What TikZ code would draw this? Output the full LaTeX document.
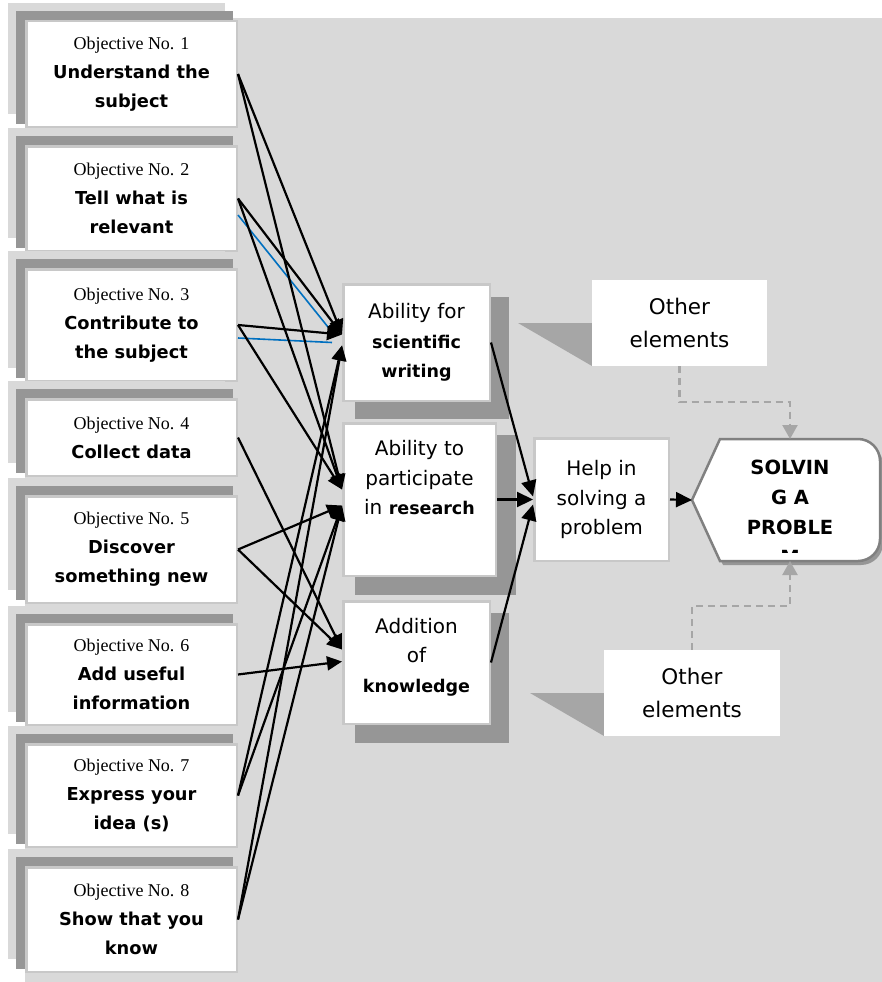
\documentclass[tikz,border=0pt]{standalone}
\usepackage{fontspec}
\newfontfamily\comic{DejaVu Sans}
\newfontfamily\objserif{Liberation Serif}
\usetikzlibrary{arrows.meta,calc}
\definecolor{panel}{HTML}{D9D9D9}
\definecolor{shadowdk}{HTML}{969696}
\definecolor{boxborder}{HTML}{C8C8C8}
\definecolor{callgray}{HTML}{A6A6A6}
\definecolor{hexborder}{HTML}{808080}
\definecolor{linkblue}{HTML}{0070C0}
\newcommand\bsf[1]{{\bfseries\fontsize{17.5}{29}\selectfont #1}}
\newcommand\mkobj[5]{%
  \fill[panel] (8,{#2-#3/2-17}) rectangle (225,{#2+#3/2-14});
  \fill[shadowdk] (16,{#2-#3/2-9}) rectangle (233,{#2+#3/2-4});
  \node[objbox, minimum height={#3-2.5}] (#1) at (131.5,#2)
    {{\objserif\mdseries\fontsize{18}{29}\selectfont Objective No. #4}\\#5};
}
\begin{document}
\begin{tikzpicture}[x=1pt,y=-1pt,
  objbox/.style={draw=boxborder, line width=2.5pt, fill=white, minimum width=210.5pt,
    inner sep=0pt, align=center, font=\comic\bfseries\fontsize{17.8}{29}\selectfont},
  midbox/.style={draw=boxborder, line width=2.5pt, fill=white, inner sep=0pt,
    align=center, font=\comic\fontsize{20}{29.5}\selectfont},
  midtext/.style={inner sep=0pt, align=center, font=\comic\fontsize{20}{29.5}\selectfont},
  callbox/.style={fill=white, inner sep=0pt, minimum width=175pt, minimum height=86pt,
    align=center, font=\comic\fontsize{21.5}{33}\selectfont},
  link/.style={line width=2.2pt, -{Triangle[length=15pt,width=14pt]}},
  bluelink/.style={draw=linkblue, line width=1.6pt},
  headlink/.style={line width=2.2pt, -{Triangle[length=16pt,width=15pt]}},
  dasharrow/.style={draw=callgray, line width=2.2pt, dash pattern=on 7pt off 5pt,
    -{Triangle[length=14pt,width=15pt]}}
]
\useasboundingbox (0,0) rectangle (882,982);
\fill[panel] (25,18) rectangle (882,982);

% left column
\mkobj{o1}{74}{108}{1}{Understand the\\subject}
\mkobj{o2}{198.5}{107}{2}{Tell what is\\relevant}
\mkobj{o3}{325}{114}{3}{Contribute to\\the subject}
\mkobj{o4}{437.5}{79}{4}{Collect data}
\mkobj{o5}{549.5}{109}{5}{Discover\\something new}
\mkobj{o6}{674.5}{103}{6}{Add useful\\information}
\mkobj{o7}{795.5}{105}{7}{Express your\\idea (s)}
\mkobj{o8}{919.5}{107}{8}{Show that you\\know}

% middle boxes with shadows
\fill[shadowdk] (355,297) rectangle (509,419);
\fill[shadowdk] (355,435) rectangle (516,595);
\fill[shadowdk] (355,613) rectangle (509,743);
\node[midbox, minimum width=146.5pt, minimum height=116.5pt] (A) at (416.5,342.5)
  {Ability for\\\bsf{scientific}\\\bsf{writing}};
\node[midbox, minimum width=152.5pt, minimum height=152.5pt] (B) at (419.5,499.5) {};
\node[midtext] (Btxt) at (419.5,478) {Ability to\\participate\\in \bsf{research}};
\node[midbox, minimum width=146.5pt, minimum height=122.5pt] (C) at (416.5,662.5) {};
\node[midtext] (Ctxt) at (416.5,657) {Addition\\of\\\bsf{knowledge}};
\node[midbox, minimum width=134.5pt, minimum height=122.5pt] (H) at (601.5,499.5)
  {Help in\\solving a\\problem};

% hexagon-like target shape
\begin{scope}[shift={(3,4)}]
  \fill[shadowdk] (692,500) -- (720,439) -- (858,439) .. controls (870.2,439) and (880,448.8) .. (880,461)
    -- (880,539) .. controls (880,551.2) and (870.2,561) .. (858,561) -- (720,561) -- cycle;
\end{scope}
\filldraw[fill=white, draw=hexborder, line width=2.5pt]
  (692,500) -- (720,439) -- (858,439) .. controls (870.2,439) and (880,448.8) .. (880,461)
    -- (880,539) .. controls (880,551.2) and (870.2,561) .. (858,561) -- (720,561) -- cycle;
\coordinate (hexL) at (692,500);
\coordinate (hexT) at (790,439);
\coordinate (hexB) at (790,561);
\begin{scope}
  \clip (692,439) rectangle (880,552);
  \node[inner sep=0pt, align=center, font=\comic\bfseries\fontsize{19.5}{30}\selectfont] (S) at (790,512)
    {SOLVIN\\G A\\PROBLE\\M};
\end{scope}

% callouts
\fill[callgray] (518,323) -- (592,323) -- (592,366) -- cycle;
\node[callbox] (Ot) at (679.5,323) {Other\\elements};
\fill[callgray] (530,693) -- (604,693) -- (604,736) -- cycle;
\node[callbox, minimum width=176pt] (Ob) at (692,693) {Other\\elements};
\draw[dasharrow] (Ot.south) -- ++(0,36) -| (hexT);
\draw[dasharrow] (Ob.north) -- ++(0,-44) -| (hexB);

% target coordinates on middle boxes
\coordinate (Ain1) at ($(A.west)+(0,-8)$);
\coordinate (Ain2) at ($(A.west)+(0,3)$);
\coordinate (Bin1) at ($(B.west)+(0,-10)$);
\coordinate (Bin2) at ($(B.west)+(0,6)$);
\coordinate (Cin1) at ($(C.west)+(0,-13)$);
\coordinate (Cin2) at ($(C.west)+(0,-1)$);

% blue links
\draw[bluelink] ($(o2.east)+(0,16.5)$) -- ($(Ain1)+(-8,0)$);
\draw[bluelink] ($(o3.east)+(0,13)$) -- ($(Ain1)+(-10,8)$);

% black links
\draw[link] (o1.east) -- (Ain1);
\draw[link] (o1.east) -- (Bin1);
\draw[link] (o2.east) -- (Ain1);
\draw[link] (o2.east) -- (Bin1);
\draw[link] (o3.east) -- (Ain1);
\draw[link] (o3.east) -- (Bin1);
\draw[link] (o4.east) -- (Cin1);
\draw[link] (o5.east) -- (Bin2);
\draw[link] (o5.east) -- (Cin1);
\draw[link] (o6.east) -- (Cin2);
\draw[link] (o7.east) -- (Ain2);
\draw[link] (o7.east) -- (Bin2);
\draw[link] (o8.east) -- (Ain2);
\draw[link] (o8.east) -- (Bin2);

% links to help box and target
\draw[headlink] (A.east) -- ($(H.west)+(0,-3)$);
\draw[headlink] (B.east) -- (H.west);
\draw[headlink] (C.east) -- ($(H.west)+(0,5)$);
\draw[headlink] (H.east) -- (hexL);
\end{tikzpicture}
\end{document}
